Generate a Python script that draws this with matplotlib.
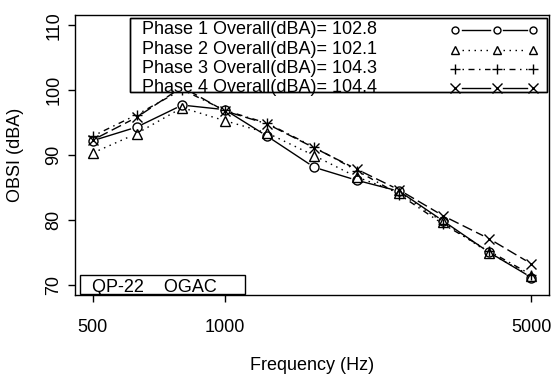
import matplotlib
matplotlib.use("Agg")
import numpy as np
import matplotlib.pyplot as plt
from matplotlib.patches import Rectangle
from matplotlib.lines import Line2D

plt.rcParams['font.family'] = ['Liberation Sans', 'DejaVu Sans']
plt.rcParams['lines.scale_dashes'] = False

freqs = [500, 630, 800, 1000, 1250, 1600, 2000, 2500, 3150, 4000, 5000]
phase1 = [92.2, 94.3, 97.7, 97.0, 92.9, 88.1, 86.1, 84.4, 79.8, 75.0, 71.1]
phase2 = [90.3, 93.3, 97.3, 95.3, 93.4, 89.9, 86.6, 84.2, 79.6, 74.9, 71.3]
phase3 = [92.9, 96.2, 100.1, 96.9, 94.9, 91.2, 87.6, 83.9, 79.3, 75.2, 71.5]
phase4 = [92.3, 95.8, 100.5, 96.8, 94.8, 91.1, 87.8, 84.6, 80.6, 77.1, 73.2]
legend_labels = ["Phase 1 Overall(dBA)= 102.8", "Phase 2 Overall(dBA)= 102.1",
                 "Phase 3 Overall(dBA)= 104.3", "Phase 4 Overall(dBA)= 104.4"]
xticks = [500, 1000, 5000]
yticks = [70, 80, 90, 100, 110]
note = "QP-22    OGAC"

u = 1.08
styles = [
    dict(marker='o', ls='-', ms=6.5, lms=5, lls='-'),
    dict(marker='^', ls=(0, (u, 3 * u)), ms=7, lms=5.5, lls=(0, (u, 3 * u))),
    dict(marker='+', ls=(0, (u, 3 * u, 4 * u, 3 * u)), ms=7.5, lms=7,
         lls=(0, (u, 3 * u, 4 * u, 3 * u))),
    dict(marker='x', ls=(0, (7 * u, 3 * u)), ms=6.5, lms=6.5, lls='-'),
]
series = [phase1, phase2, phase3, phase4]

W, H = 552, 374
fig = plt.figure(figsize=(W / 100, H / 100), dpi=100)
L, R, T, B = 75, 549, 15, 295
ax = fig.add_axes([L / W, 1 - B / H, (R - L) / W, (B - T) / H])

ax.set_xscale('log')
ax.set_xlim(10 ** (2.69897 - 0.04), 10 ** (3.69897 + 0.04))
ax.set_ylim(68.4, 111.6)

GAP = 6.5  # pixels between a point and the start of its line segment (R type="b")

def gapped_segments(xs, ys, gap):
    pts = ax.transData.transform(np.column_stack([xs, ys]))
    inv = ax.transData.inverted()
    out = []
    for p0, p1 in zip(pts[:-1], pts[1:]):
        d = p1 - p0
        n = np.hypot(*d)
        if n <= 2 * gap:
            continue
        e = d / n
        out.append(inv.transform(np.array([p0 + e * gap, p1 - e * gap])))
    return out

for ys, st in zip(series, styles):
    for seg in gapped_segments(freqs, ys, GAP):
        ax.plot(seg[:, 0], seg[:, 1], color='black', lw=1.0, linestyle=st['ls'],
                zorder=2)
    ax.plot(freqs, ys, linestyle='none', marker=st['marker'], markersize=st['ms'],
            markerfacecolor='none', markeredgecolor='black', markeredgewidth=1.0,
            zorder=3)

ax.set_xticks(xticks)
ax.set_xticklabels([str(v) for v in xticks])
ax.xaxis.set_minor_locator(matplotlib.ticker.NullLocator())
ax.set_yticks(yticks)
ax.set_yticklabels([str(v) for v in yticks], rotation=90, va='center')
ax.tick_params(axis='both', direction='out', length=5, width=1.0, labelsize=13)
ax.tick_params(axis='x', pad=12)
ax.tick_params(axis='y', pad=4)
for s in ax.spines.values():
    s.set_linewidth(1.0)

fig.text(312 / W, 1 - 365 / H, 'Frequency (Hz)', ha='center', va='center', fontsize=13)
fig.text(16 / W, 1 - 155 / H, 'OBSI (dBA)', ha='center', va='center', rotation=90, fontsize=13)

def fx(px):
    return (px - L) / (R - L)

def fy(py):
    return 1 - (py - T) / (B - T)

box = Rectangle((fx(130), fy(92.3)), fx(547) - fx(130), fy(18.3) - fy(92.3),
                transform=ax.transAxes, facecolor='white', edgecolor='black',
                lw=1.0, zorder=5)
ax.add_patch(box)
rows = [30, 49.5, 68.5, 87.5]
sym_x = [455, 496.7, 533.3]
LG = 6.5
for lab, st, ry in zip(legend_labels, styles, rows):
    ax.text(fx(142), fy(ry), lab, transform=ax.transAxes, ha='left',
            va='center', fontsize=13, zorder=6)
    ax.add_line(Line2D([fx(v) for v in sym_x], [fy(ry)] * 3,
                       transform=ax.transAxes, linestyle='none',
                       marker=st['marker'], markersize=st['lms'],
                       markerfacecolor='none', markeredgecolor='black',
                       markeredgewidth=1.0, zorder=6))
    for a, b in zip(sym_x[:-1], sym_x[1:]):
        ax.add_line(Line2D([fx(a + LG), fx(b - LG)], [fy(ry)] * 2,
                           transform=ax.transAxes, color='black', lw=1.0,
                           linestyle=st['lls'], zorder=6))
edge = Rectangle((fx(130), fy(92.3)), fx(547) - fx(130), fy(18.3) - fy(92.3),
                 transform=ax.transAxes, facecolor='none', edgecolor='black',
                 lw=1.0, zorder=7)
ax.add_patch(edge)

nb = Rectangle((fx(80), fy(294)), fx(245) - fx(80), fy(275) - fy(294),
               transform=ax.transAxes, facecolor='white', edgecolor='black',
               lw=1.0, zorder=5)
ax.add_patch(nb)
ax.text(fx(92), fy(291.5), note, transform=ax.transAxes, ha='left',
        va='baseline', fontsize=13, zorder=6)

fig.savefig('out.png', dpi=100)
